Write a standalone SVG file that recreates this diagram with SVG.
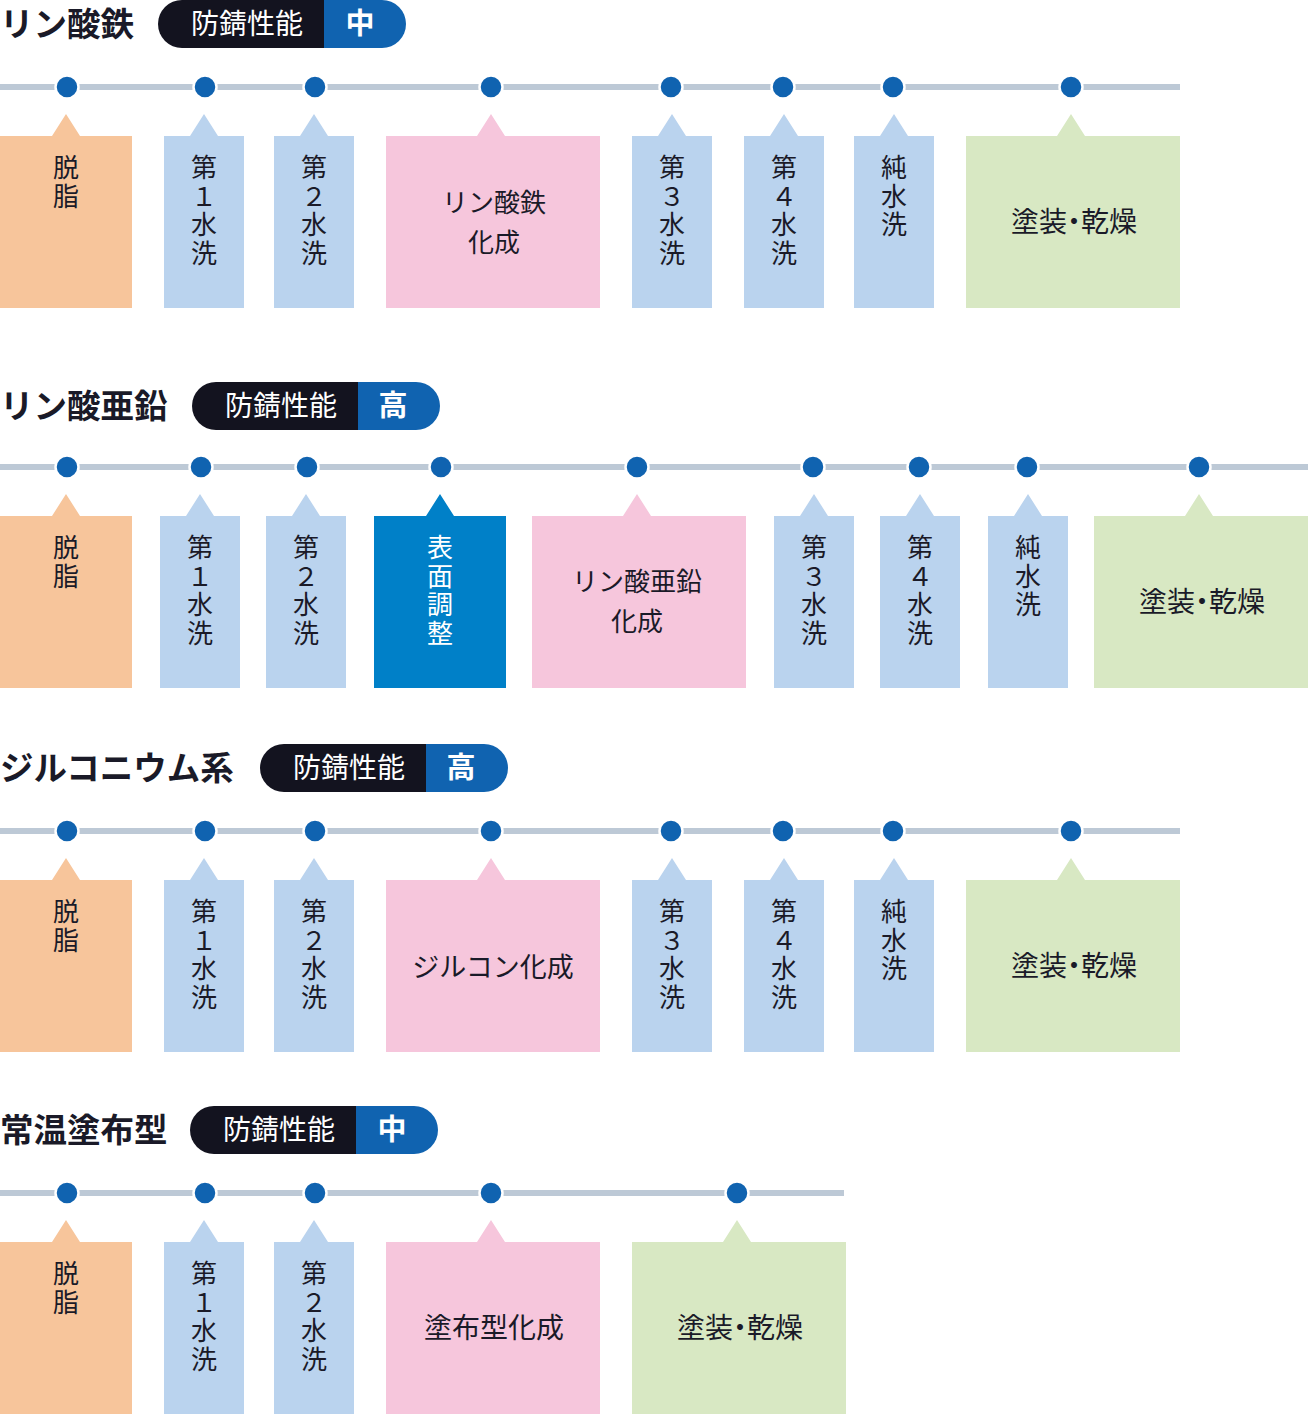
<svg xmlns="http://www.w3.org/2000/svg" width="1308" height="1414" viewBox="0 0 1308 1414">
<style>
text{font-family:"Noto Sans CJK JP","Noto Sans",sans-serif;}
.title{font-size:33.5px;font-weight:700;fill:#1a1a28;}
.pl{font-size:28px;fill:#fff;text-anchor:middle;}
.pv{font-size:29px;font-weight:700;fill:#fff;text-anchor:middle;}
.lbl{font-size:26px;fill:#1a1a28;text-anchor:middle;}
.big{font-size:28px;}
.dry{font-size:28px;font-feature-settings:"palt";}
.wl{font-size:26px;fill:#fff;text-anchor:middle;}
.line{stroke:#bdc9d6;stroke-width:6;}
.dot{fill:#1063b0;stroke:#fff;stroke-width:2.5;}
.dark{fill:#13131f;}
.blue{fill:#1063b0;}
.o{fill:#f7c59b;}
.b{fill:#bad3ee;}
.p{fill:#f6c6dc;}
.g{fill:#d8e8c3;}
.s{fill:#0080c8;}
</style>
<defs>
<clipPath id="pill"><rect x="0" y="0" width="248" height="48" rx="24"/></clipPath>
</defs>

<!-- Section 1 -->
<g id="sec1-header">
<text class="title" x="0" y="36">リン酸鉄</text>
<g transform="translate(158,0)" clip-path="url(#pill)">
<rect class="dark" x="0" y="0" width="166" height="48"/>
<rect class="blue" x="166" y="0" width="82" height="48"/>
</g>
<text class="pl" x="247" y="33.5">防錆性能</text>
<text class="pv" x="360" y="34">中</text>
</g>
<g id="sec1-connectors">
<line class="line" x1="0" y1="87" x2="1180" y2="87"/>
<circle class="dot" cx="67" cy="87" r="11.5"/>
<circle class="dot" cx="205" cy="87" r="11.5"/>
<circle class="dot" cx="315" cy="87" r="11.5"/>
<circle class="dot" cx="491" cy="87" r="11.5"/>
<circle class="dot" cx="671" cy="87" r="11.5"/>
<circle class="dot" cx="783" cy="87" r="11.5"/>
<circle class="dot" cx="893" cy="87" r="11.5"/>
<circle class="dot" cx="1071" cy="87" r="11.5"/>
</g>
<g id="s1n1"><path class="o" d="M0 136H52L66 114L80 136H132V308H0Z"/><text class="lbl" x="66" y="177">脱<tspan x="66" dy="28.5">脂</tspan></text></g>
<g id="s1n2"><path class="b" d="M164 136H190L204 114L218 136H244V308H164Z"/><text class="lbl" x="204" y="177">第<tspan x="204" dy="28.5">１</tspan><tspan x="204" dy="28.5">水</tspan><tspan x="204" dy="28.5">洗</tspan></text></g>
<g id="s1n3"><path class="b" d="M274 136H300L314 114L328 136H354V308H274Z"/><text class="lbl" x="314" y="177">第<tspan x="314" dy="28.5">２</tspan><tspan x="314" dy="28.5">水</tspan><tspan x="314" dy="28.5">洗</tspan></text></g>
<g id="s1n4"><path class="p" d="M386 136H477L491 114L505 136H600V308H386Z"/><text class="lbl" x="494" y="212">リン酸鉄<tspan x="494" dy="40">化成</tspan></text></g>
<g id="s1n5"><path class="b" d="M632 136H658L672 114L686 136H712V308H632Z"/><text class="lbl" x="672" y="177">第<tspan x="672" dy="28.5">３</tspan><tspan x="672" dy="28.5">水</tspan><tspan x="672" dy="28.5">洗</tspan></text></g>
<g id="s1n6"><path class="b" d="M744 136H770L784 114L798 136H824V308H744Z"/><text class="lbl" x="784" y="177">第<tspan x="784" dy="28.5">４</tspan><tspan x="784" dy="28.5">水</tspan><tspan x="784" dy="28.5">洗</tspan></text></g>
<g id="s1n7"><path class="b" d="M854 136H880L894 114L908 136H934V308H854Z"/><text class="lbl" x="894" y="177">純<tspan x="894" dy="28.5">水</tspan><tspan x="894" dy="28.5">洗</tspan></text></g>
<g id="s1n8"><path class="g" d="M966 136H1057L1071 114L1085 136H1180V308H966Z"/><text class="lbl dry" x="1074" y="232">塗装・乾燥</text></g>

<!-- Section 2 -->
<g id="sec2-header">
<text class="title" x="0" y="418">リン酸亜鉛</text>
<g transform="translate(192,382)" clip-path="url(#pill)">
<rect class="dark" x="0" y="0" width="166" height="48"/>
<rect class="blue" x="166" y="0" width="82" height="48"/>
</g>
<text class="pl" x="281" y="415.5">防錆性能</text>
<text class="pv" x="393" y="416">高</text>
</g>
<g id="sec2-connectors">
<line class="line" x1="0" y1="467" x2="1308" y2="467"/>
<circle class="dot" cx="67" cy="467" r="11.5"/>
<circle class="dot" cx="201" cy="467" r="11.5"/>
<circle class="dot" cx="307" cy="467" r="11.5"/>
<circle class="dot" cx="441" cy="467" r="11.5"/>
<circle class="dot" cx="637" cy="467" r="11.5"/>
<circle class="dot" cx="813" cy="467" r="11.5"/>
<circle class="dot" cx="919" cy="467" r="11.5"/>
<circle class="dot" cx="1027" cy="467" r="11.5"/>
<circle class="dot" cx="1199" cy="467" r="11.5"/>
</g>
<g id="s2n1"><path class="o" d="M0 516H52L66 494L80 516H132V688H0Z"/><text class="lbl" x="66" y="557">脱<tspan x="66" dy="28.5">脂</tspan></text></g>
<g id="s2n2"><path class="b" d="M160 516H186L200 494L214 516H240V688H160Z"/><text class="lbl" x="200" y="557">第<tspan x="200" dy="28.5">１</tspan><tspan x="200" dy="28.5">水</tspan><tspan x="200" dy="28.5">洗</tspan></text></g>
<g id="s2n3"><path class="b" d="M266 516H292L306 494L320 516H346V688H266Z"/><text class="lbl" x="306" y="557">第<tspan x="306" dy="28.5">２</tspan><tspan x="306" dy="28.5">水</tspan><tspan x="306" dy="28.5">洗</tspan></text></g>
<g id="s2n4"><path class="s" d="M374 516H426L440 494L454 516H506V688H374Z"/><text class="wl" x="440" y="557">表<tspan x="440" dy="28.5">面</tspan><tspan x="440" dy="28.5">調</tspan><tspan x="440" dy="28.5">整</tspan></text></g>
<g id="s2n5"><path class="p" d="M532 516H623L637 494L651 516H746V688H532Z"/><text class="lbl" x="637" y="591">リン酸亜鉛<tspan x="637" dy="40">化成</tspan></text></g>
<g id="s2n6"><path class="b" d="M774 516H800L814 494L828 516H854V688H774Z"/><text class="lbl" x="814" y="557">第<tspan x="814" dy="28.5">３</tspan><tspan x="814" dy="28.5">水</tspan><tspan x="814" dy="28.5">洗</tspan></text></g>
<g id="s2n7"><path class="b" d="M880 516H906L920 494L934 516H960V688H880Z"/><text class="lbl" x="920" y="557">第<tspan x="920" dy="28.5">４</tspan><tspan x="920" dy="28.5">水</tspan><tspan x="920" dy="28.5">洗</tspan></text></g>
<g id="s2n8"><path class="b" d="M988 516H1014L1028 494L1042 516H1068V688H988Z"/><text class="lbl" x="1028" y="557">純<tspan x="1028" dy="28.5">水</tspan><tspan x="1028" dy="28.5">洗</tspan></text></g>
<g id="s2n9"><path class="g" d="M1094 516H1185L1199 494L1213 516H1308V688H1094Z"/><text class="lbl dry" x="1202" y="612">塗装・乾燥</text></g>

<!-- Section 3 -->
<g id="sec3-header">
<text class="title" x="0" y="780">ジルコニウム系</text>
<g transform="translate(260,744)" clip-path="url(#pill)">
<rect class="dark" x="0" y="0" width="166" height="48"/>
<rect class="blue" x="166" y="0" width="82" height="48"/>
</g>
<text class="pl" x="349" y="777.5">防錆性能</text>
<text class="pv" x="461" y="778">高</text>
</g>
<g id="sec3-connectors">
<line class="line" x1="0" y1="831" x2="1180" y2="831"/>
<circle class="dot" cx="67" cy="831" r="11.5"/>
<circle class="dot" cx="205" cy="831" r="11.5"/>
<circle class="dot" cx="315" cy="831" r="11.5"/>
<circle class="dot" cx="491" cy="831" r="11.5"/>
<circle class="dot" cx="671" cy="831" r="11.5"/>
<circle class="dot" cx="783" cy="831" r="11.5"/>
<circle class="dot" cx="893" cy="831" r="11.5"/>
<circle class="dot" cx="1071" cy="831" r="11.5"/>
</g>
<g id="s3n1"><path class="o" d="M0 880H52L66 858L80 880H132V1052H0Z"/><text class="lbl" x="66" y="921">脱<tspan x="66" dy="28.5">脂</tspan></text></g>
<g id="s3n2"><path class="b" d="M164 880H190L204 858L218 880H244V1052H164Z"/><text class="lbl" x="204" y="921">第<tspan x="204" dy="28.5">１</tspan><tspan x="204" dy="28.5">水</tspan><tspan x="204" dy="28.5">洗</tspan></text></g>
<g id="s3n3"><path class="b" d="M274 880H300L314 858L328 880H354V1052H274Z"/><text class="lbl" x="314" y="921">第<tspan x="314" dy="28.5">２</tspan><tspan x="314" dy="28.5">水</tspan><tspan x="314" dy="28.5">洗</tspan></text></g>
<g id="s3n4"><path class="p" d="M386 880H477L491 858L505 880H600V1052H386Z"/><text class="lbl" x="493" y="977" style="font-size:27px">ジルコン化成</text></g>
<g id="s3n5"><path class="b" d="M632 880H658L672 858L686 880H712V1052H632Z"/><text class="lbl" x="672" y="921">第<tspan x="672" dy="28.5">３</tspan><tspan x="672" dy="28.5">水</tspan><tspan x="672" dy="28.5">洗</tspan></text></g>
<g id="s3n6"><path class="b" d="M744 880H770L784 858L798 880H824V1052H744Z"/><text class="lbl" x="784" y="921">第<tspan x="784" dy="28.5">４</tspan><tspan x="784" dy="28.5">水</tspan><tspan x="784" dy="28.5">洗</tspan></text></g>
<g id="s3n7"><path class="b" d="M854 880H880L894 858L908 880H934V1052H854Z"/><text class="lbl" x="894" y="921">純<tspan x="894" dy="28.5">水</tspan><tspan x="894" dy="28.5">洗</tspan></text></g>
<g id="s3n8"><path class="g" d="M966 880H1057L1071 858L1085 880H1180V1052H966Z"/><text class="lbl dry" x="1074" y="976">塗装・乾燥</text></g>

<!-- Section 4 -->
<g id="sec4-header">
<text class="title" x="0" y="1142">常温塗布型</text>
<g transform="translate(190,1106)" clip-path="url(#pill)">
<rect class="dark" x="0" y="0" width="166" height="48"/>
<rect class="blue" x="166" y="0" width="82" height="48"/>
</g>
<text class="pl" x="279" y="1139.5">防錆性能</text>
<text class="pv" x="392" y="1140">中</text>
</g>
<g id="sec4-connectors">
<line class="line" x1="0" y1="1193" x2="844" y2="1193"/>
<circle class="dot" cx="67" cy="1193" r="11.5"/>
<circle class="dot" cx="205" cy="1193" r="11.5"/>
<circle class="dot" cx="315" cy="1193" r="11.5"/>
<circle class="dot" cx="491" cy="1193" r="11.5"/>
<circle class="dot" cx="737" cy="1193" r="11.5"/>
</g>
<g id="s4n1"><path class="o" d="M0 1242H52L66 1220L80 1242H132V1414H0Z"/><text class="lbl" x="66" y="1283">脱<tspan x="66" dy="28.5">脂</tspan></text></g>
<g id="s4n2"><path class="b" d="M164 1242H190L204 1220L218 1242H244V1414H164Z"/><text class="lbl" x="204" y="1283">第<tspan x="204" dy="28.5">１</tspan><tspan x="204" dy="28.5">水</tspan><tspan x="204" dy="28.5">洗</tspan></text></g>
<g id="s4n3"><path class="b" d="M274 1242H300L314 1220L328 1242H354V1414H274Z"/><text class="lbl" x="314" y="1283">第<tspan x="314" dy="28.5">２</tspan><tspan x="314" dy="28.5">水</tspan><tspan x="314" dy="28.5">洗</tspan></text></g>
<g id="s4n4"><path class="p" d="M386 1242H477L491 1220L505 1242H600V1414H386Z"/><text class="lbl big" x="494" y="1338">塗布型化成</text></g>
<g id="s4n5"><path class="g" d="M632 1242H723L737 1220L751 1242H846V1414H632Z"/><text class="lbl dry" x="740" y="1338">塗装・乾燥</text></g>
</svg>
